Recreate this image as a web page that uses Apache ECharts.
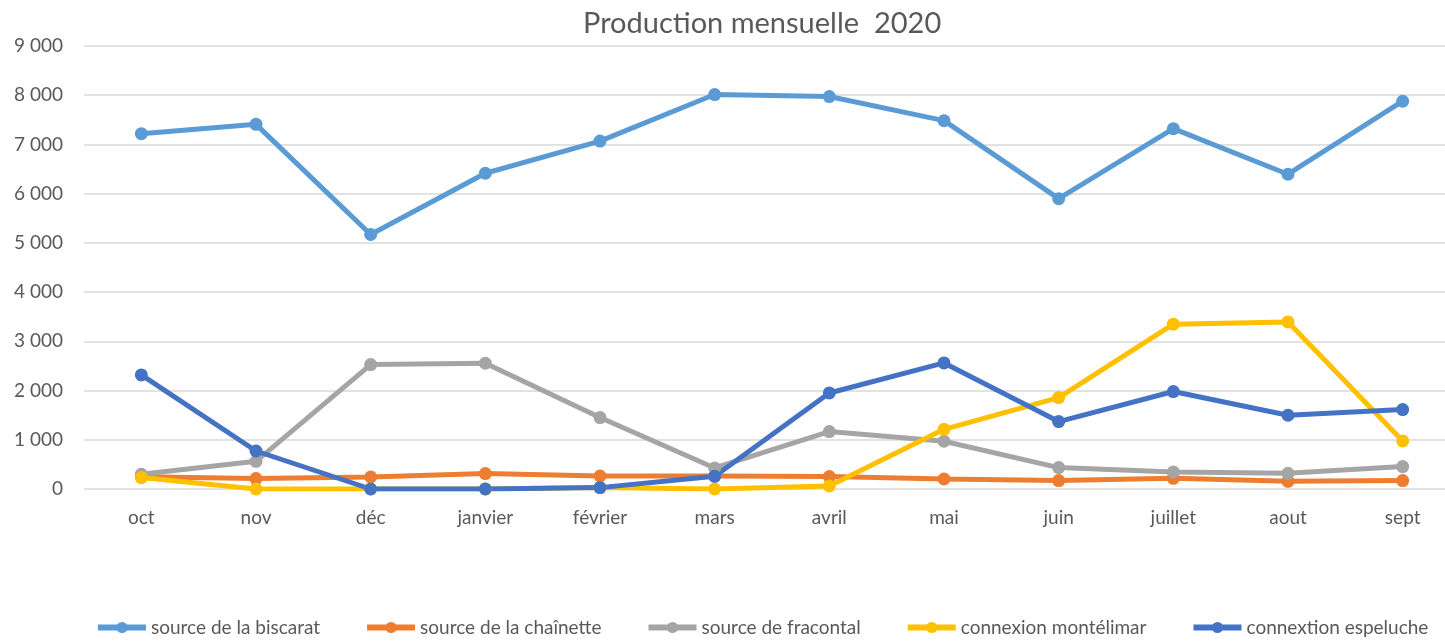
<!DOCTYPE html>
<html>
<head>
<meta charset="utf-8">
<script src="https://cdn.jsdelivr.net/npm/echarts@6/dist/echarts.min.js"></script>
<style>
    * { margin: 0; padding: 0; }
    html, body { width: 1445px; height: 644px; background: #fff; overflow: hidden; }
</style>
</head>
<body>
<div id="prod" style="width: 1445px; height: 644px;"></div>
<script>
    // données
    var mois = ['oct', 'nov', 'déc', 'janvier', 'février', 'mars', 'avril', 'mai', 'juin', 'juillet', 'aout', 'sept'];
    var biscarat = [7218, 7408, 5170, 6415, 7068, 8014, 7973, 7483, 5898, 7320, 6395, 7878];
    var chainette = [250, 211, 244, 313, 264, 264, 252, 203, 171, 217, 156, 171];
    var fracontal = [299, 563, 2528, 2555, 1451, 427, 1167, 970, 435, 346, 319, 455];
    var montelimar = [232, 0, 0, 0, 28, 0, 61, 1213, 1858, 3348, 3394, 976];
    var espeluche = [2317, 772, 0, 0, 28, 258, 1951, 2561, 1370, 1980, 1498, 1614];

    var police = 'Lato, "Noto Sans", sans-serif';

    function serie(nom, valeurs, couleur) {
        return {
            name: nom,
            type: 'line',
            data: valeurs,
            symbol: 'circle',
            symbolSize: 13,
            color: couleur,
            lineStyle: { width: 5, color: couleur },
            itemStyle: { color: couleur },
            animation: false
        };
    }

    var myChart = echarts.init(document.getElementById('prod'));
    myChart.setOption({
        backgroundColor: '#fff',
        textStyle: { fontFamily: police },
        title: {
            text: 'Production mensuelle  2020',
            left: 578,
            top: 4,
            textStyle: { fontFamily: police, fontSize: 29, fontWeight: 'normal', color: '#595959' }
        },
        legend: {
            left: 90,
            bottom: 2,
            itemWidth: 48,
            itemHeight: 14,
            itemGap: 44,
            lineStyle: { width: 6 },
            textStyle: { fontFamily: police, fontSize: 19, color: '#595959' },
            data: ['source de la biscarat', 'source de la chaînette', 'source de fracontal', 'connexion montélimar', 'connextion espeluche']
        },
        grid: { left: 84, top: 46, width: 1376, height: 443, outerBoundsMode: 'none' },
        xAxis: {
            type: 'category',
            data: mois,
            boundaryGap: true,
            axisLine: { show: false },
            axisTick: { show: false },
            axisLabel: { fontFamily: police, fontSize: 19, color: '#595959', margin: 19 }
        },
        yAxis: {
            type: 'value',
            min: 0,
            max: 9000,
            interval: 1000,
            axisLine: { show: false },
            axisTick: { show: false },
            splitLine: { lineStyle: { color: '#d9d9d9', width: 1.5 } },
            axisLabel: {
                fontFamily: police, fontSize: 19, color: '#595959', margin: 21,
                formatter: function (v) {
                    return String(v).replace(/\B(?=(\d{3})+(?!\d))/g, ' ');
                }
            }
        },
        series: [
            serie('source de la biscarat', biscarat, '#5B9BD5'),
            serie('source de la chaînette', chainette, '#ED7D31'),
            serie('source de fracontal', fracontal, '#A5A5A5'),
            serie('connexion montélimar', montelimar, '#FFC000'),
            serie('connextion espeluche', espeluche, '#4472C4')
        ]
    });
</script>
</body>
</html>
